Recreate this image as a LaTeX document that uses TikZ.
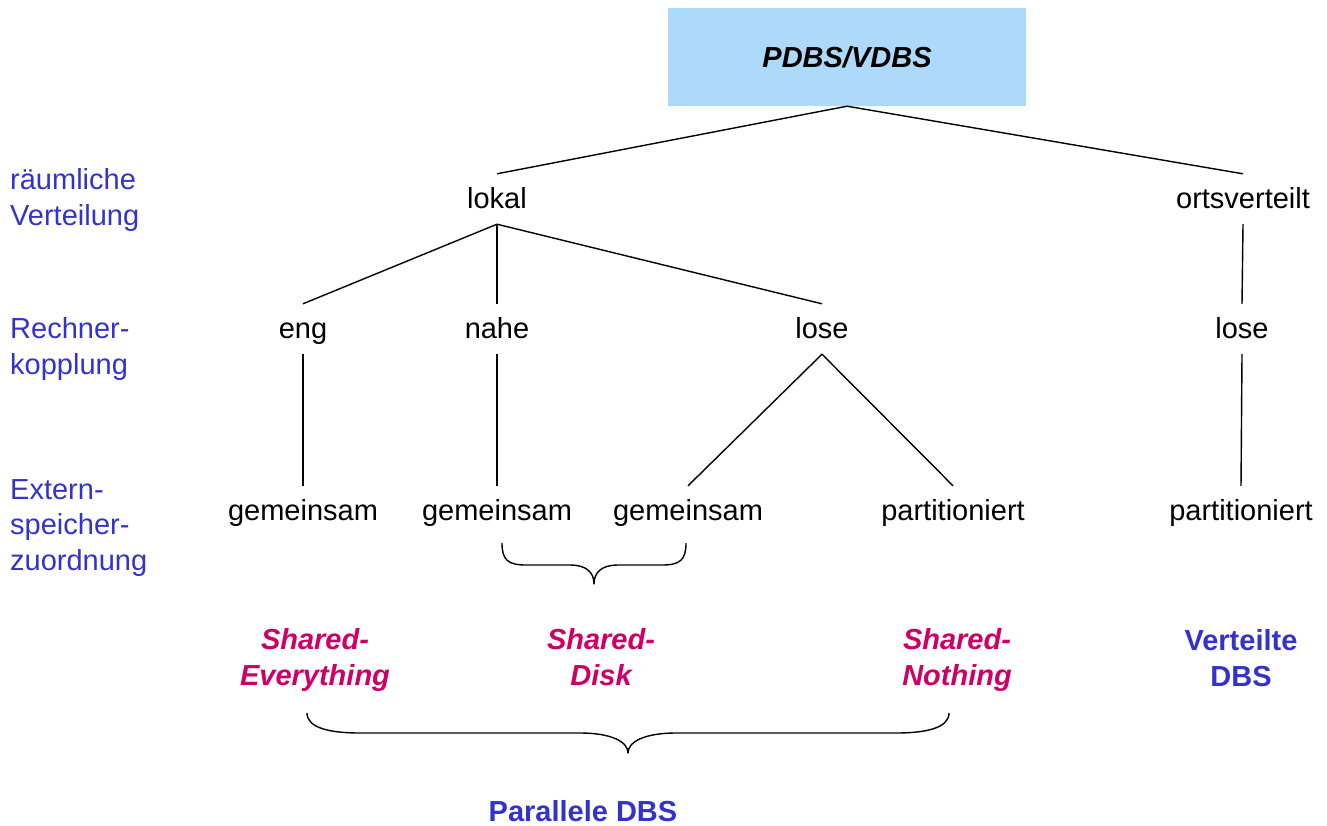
\documentclass[tikz,border=0pt]{standalone}
\usepackage{fontspec}
\setmainfont{Liberation Sans}
\definecolor{boxblue}{RGB}{173,217,250}
\definecolor{labelblue}{RGB}{51,51,204}
\definecolor{archmag}{RGB}{204,0,102}
\begin{document}
\begin{tikzpicture}[x=1pt,y=-1pt,
  every node/.style={font=\fontsize{29}{35}\selectfont},
  term/.style={inner sep=0pt, minimum height=50pt, text height=22pt, text depth=4pt},
  level/.style={anchor=west, align=left, text=labelblue, inner sep=0pt, font=\fontsize{29}{35.5}\selectfont},
  arch/.style={align=center, text=archmag, font=\fontsize{29}{36}\selectfont\bfseries\itshape},
  group/.style={align=center, text=labelblue, font=\fontsize{29}{36}\selectfont\bfseries},
  edge/.style={draw, line width=1.4pt},
  bracepath/.style={draw, line width=1.4pt, line join=round}]
\useasboundingbox (0,0) rectangle (1327,825);

% root box
\node[fill=boxblue, minimum width=358pt, minimum height=98pt, inner sep=0pt,
      font=\fontsize{29}{35}\selectfont\bfseries\itshape] (root) at (847,57) {PDBS/VDBS};

% level captions
\node[level] (capA) at (10,200) {räumliche\\Verteilung};
\node[level] (capB) at (10,349) {Rechner-\\kopplung};
\node[level] (capC) at (10,528) {Extern-\\speicher-\\zuordnung};

% spatial distribution
\node[term] (lokal) at (497,199) {lokal};
\node[term] (orts)  at (1243,199) {ortsverteilt};

% coupling
\node[term] (eng)   at (303,329) {eng};
\node[term] (nahe)  at (497,329) {nahe};
\node[term] (loseL) at (822,329) {lose};
\node[term] (loseR) at (1242,329) {lose};

% storage assignment
\node[term] (gemA)  at (303,511) {gemeinsam};
\node[term] (gemB)  at (497,511) {gemeinsam};
\node[term] (gemC)  at (688,511) {gemeinsam};
\node[term] (partA) at (953,511) {partitioniert};
\node[term] (partB) at (1241,511) {partitioniert};

% tree edges
\path[edge] (root.south) -- (lokal.north);
\path[edge] (root.south) -- (orts.north);
\path[edge] (lokal.south) -- (eng.north);
\path[edge] (lokal.south) -- (nahe.north);
\path[edge] (lokal.south) -- (loseL.north);
\path[edge] (orts.south) -- (loseR.north);
\path[edge] (eng.south) -- (gemA.north);
\path[edge] (nahe.south) -- (gemB.north);
\path[edge] (loseL.south) -- (gemC.north);
\path[edge] (loseL.south) -- (partA.north);
\path[edge] (loseR.south) -- (partB.north);

% architecture names
\node[arch] (se) at (315,660) {Shared-\\Everything};
\node[arch] (sd) at (601,660) {Shared-\\Disk\vphantom{g}};
\node[arch] (sn) at (957,660) {Shared-\\Nothing};
\node[group] (vdbs) at (1241,658) {Verteilte\\DBS};
\node[group] (pdbs) at (583,811) {Parallele DBS};

% small brace under the two shared-disk variants
\coordinate (b1l) at (502,543);
\coordinate (b1r) at (686,543);
\coordinate (b1t) at (594,584);
\path[bracepath] (b1l) .. controls (502,560) and (508,565) .. (526,565)
  -- (570,565) .. controls (586,565) and (594,572) .. (b1t)
  .. controls (594,572) and (602,565) .. (618,565)
  -- (662,565) .. controls (680,565) and (686,560) .. (b1r);

% large brace grouping the parallel architectures
\coordinate (b2l) at (307,713);
\coordinate (b2r) at (949,713);
\coordinate (b2t) at (628,753);
\path[bracepath] (b2l) .. controls (307,728) and (330,733) .. (360,733)
  -- (580,733) .. controls (612,733) and (628,742) .. (b2t)
  .. controls (628,742) and (644,733) .. (676,733)
  -- (896,733) .. controls (926,733) and (949,728) .. (b2r);
\end{tikzpicture}
\end{document}
